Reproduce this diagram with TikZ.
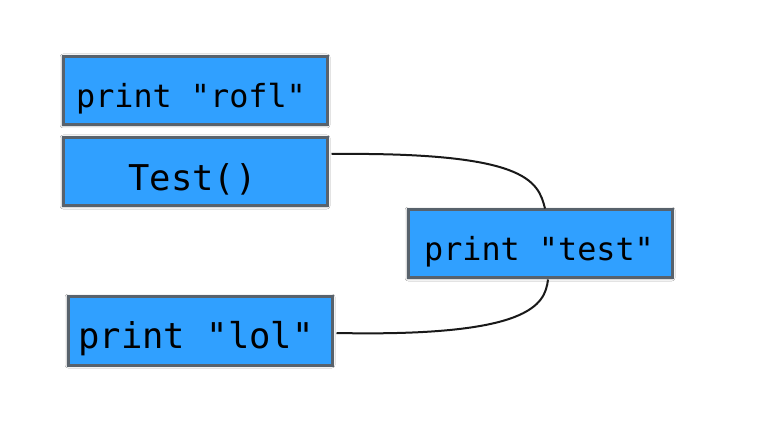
\documentclass[tikz,border=0pt]{standalone}
\usepackage{fontspec}
\setmonofont{DejaVu Sans Mono}
\usetikzlibrary{shadows.blur}
\definecolor{boxblue}{RGB}{48,160,255}
\definecolor{boxedge}{RGB}{88,98,108}
\newcommand{\boxtext}[2]{\hspace*{-#1}\raisebox{-7.5pt}[\height][\depth]{#2}}
\tikzset{
  codebox/.style={rectangle, fill=boxblue, draw=boxedge, line width=3pt,
    minimum width=264pt, minimum height=68pt, inner sep=0pt,
    font=\ttfamily, text=black,
    blur shadow={shadow xshift=0pt, shadow yshift=0pt, shadow blur radius=3pt, shadow opacity=60}},
  small/.style={font=\fontsize{31.8}{36}\selectfont\ttfamily},
  big/.style={font=\fontsize{35.5}{40}\selectfont\ttfamily},
  link/.style={draw=black!90, line width=2pt}
}
\begin{document}
\begin{tikzpicture}[x=1pt,y=-1pt]
\useasboundingbox[fill=white] (0,0) rectangle (757,427);
\node[codebox, small] (rofl) at (195,91) {\boxtext{8pt}{print "rofl"}};
\node[codebox, big] (t) at (195,172) {\boxtext{5pt}{Test()}};
\node[codebox, small] (p) at (540,244) {\boxtext{2pt}{print "test"}};
\node[codebox, big] (lol) at (200,331) {\boxtext{8pt}{print "lol"}};
\draw[link] ([yshift=18pt,xshift=3pt]t.east) .. controls (525,152) and (538,180) .. ([xshift=5pt]p.north);
\draw[link] ([yshift=-2pt,xshift=3pt]lol.east) .. controls (530,337) and (545,305) .. ([xshift=8pt]p.south);
\end{tikzpicture}
\end{document}
